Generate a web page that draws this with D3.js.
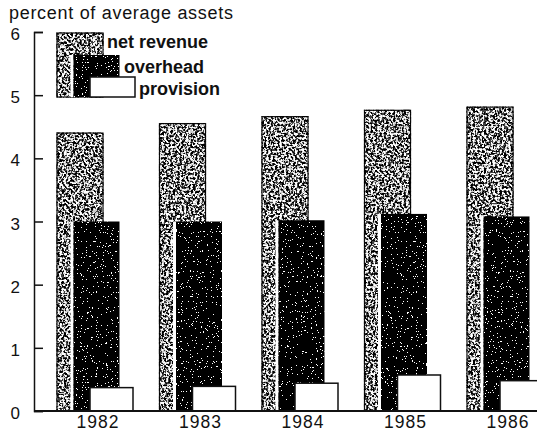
<!DOCTYPE html>
<html lang="en">
<head>
  <meta charset="UTF-8">
  <title>Bank margins 1982-1986</title>
  <script src="https://d3js.org/d3.v7.min.js"></script>
  <style>
    body { margin: 0; background: #fff; }
    svg { display: block; font-family: "Liberation Sans", Arial, sans-serif; }
  </style>
</head>
<body>
  <svg width="537" height="433"></svg>

  <script>
    const width = 537;
    const height = 433;

    // data (percent of average assets)
    const years = ["1982", "1983", "1984", "1985", "1986"];
    const series = ["net revenue", "overhead", "provision"];
    const netRevenue = [4.40, 4.55, 4.66, 4.76, 4.81];
    const overhead = [3.0, 3.0, 3.02, 3.12, 3.08];
    const provision = [0.37, 0.39, 0.44, 0.57, 0.48];
    const yTicks = [0, 1, 2, 3, 4, 5, 6];

    const svg = d3.select("svg");
    const axisX = 34;

    const yScale = d3.scaleLinear()
      .domain([0, 6])
      .range([411, 32]);

    const xScale = d3.scaleBand()
      .domain(years)
      .range([57, 57 + 5 * 102.5]);

    // offset of each series inside a year group
    const inner = d3.scalePoint()
      .domain(series)
      .range([0, 33]);

    const barWidth = { "net revenue": 46, "overhead": 46, "provision": 43 };

    // speckled print textures
    const defs = svg.append("defs");
    function grain(id, seed, freq, table, dotColor) {
      const f = defs.append("filter")
        .attr("id", id)
        .attr("color-interpolation-filters", "sRGB");
      f.append("feTurbulence")
        .attr("type", "fractalNoise")
        .attr("baseFrequency", freq)
        .attr("numOctaves", 4)
        .attr("seed", seed)
        .attr("result", "noise");
      f.append("feColorMatrix")
        .attr("in", "noise")
        .attr("type", "matrix")
        .attr("values", `0 0 0 0 ${dotColor}  0 0 0 0 ${dotColor}  0 0 0 0 ${dotColor}  1 0 0 0 0`)
        .attr("result", "a");
      f.append("feComponentTransfer")
        .attr("in", "a")
        .attr("result", "dots")
        .append("feFuncA")
        .attr("type", "discrete")
        .attr("tableValues", table);
      f.append("feComposite")
        .attr("in", "dots")
        .attr("in2", "SourceGraphic")
        .attr("operator", "in")
        .attr("result", "clipped");
      const m = f.append("feMerge");
      m.append("feMergeNode").attr("in", "SourceGraphic");
      m.append("feMergeNode").attr("in", "clipped");
    }
    grain("light", 3, 0.45, "0 0 0 0 0.2 0.75 1 1 1 1", 0);
    grain("dark", 7, 0.8, "0 0 0 0 0 0 0 1 1 1", 1);

    function drawBar(g, s, x0, w, y0, h) {
      if (s === "net revenue") {
        g.append("rect")
          .attr("x", x0).attr("y", y0).attr("width", w).attr("height", h)
          .attr("fill", "#fff")
          .attr("stroke", "#111").attr("stroke-width", 1.2)
          .attr("filter", "url(#light)");
      } else if (s === "overhead") {
        // white gap on the left side
        g.append("rect")
          .attr("x", x0 - 3).attr("y", y0).attr("width", 3).attr("height", h)
          .attr("fill", "#fff");
        g.append("rect")
          .attr("x", x0).attr("y", y0).attr("width", w).attr("height", h)
          .attr("fill", "#000")
          .attr("filter", "url(#dark)");
      } else {
        g.append("rect")
          .attr("x", x0).attr("y", y0).attr("width", w).attr("height", h)
          .attr("fill", "#fff")
          .attr("stroke", "#111").attr("stroke-width", 1.5);
      }
    }

    const bars = svg.append("g");
    const values = { "net revenue": netRevenue, "overhead": overhead, "provision": provision };
    years.forEach((yr, i) => {
      series.forEach(s => {
        const v = values[s][i];
        drawBar(bars, s, xScale(yr) + inner(s), barWidth[s],
          yScale(v), yScale(0) - yScale(v));
      });
    });

    // legend, drawn as a small stacked group
    const legendX = 57;
    const legendBottom = 97;
    const legendTops = { "net revenue": 33, "overhead": 55, "provision": 77 };
    const legendText = { "net revenue": [107, 48], "overhead": [124, 73], "provision": [139, 95] };
    const legend = svg.append("g");
    series.forEach(s => {
      drawBar(legend, s, legendX + inner(s), barWidth[s] + (s === "provision" ? 2 : 0),
        legendTops[s], legendBottom - legendTops[s]);
      legend.append("text")
        .attr("x", legendText[s][0])
        .attr("y", legendText[s][1])
        .attr("font-size", 18)
        .attr("font-weight", "bold")
        .attr("fill", "#111")
        .text(s);
    });

    // y axis with inward ticks
    const yAxis = svg.append("g")
      .attr("transform", `translate(${axisX},0)`)
      .call(d3.axisLeft(yScale)
        .tickValues(yTicks)
        .tickSize(-9)
        .tickSizeOuter(-9)
        .tickPadding(14)
        .tickFormat(d3.format("d")));
    yAxis.selectAll("path, line").attr("stroke", "#111").attr("stroke-width", 1.5);
    yAxis.selectAll("text")
      .attr("font-size", 17)
      .attr("dy", "0.45em")
      .attr("fill", "#111")
      .attr("font-family", "Liberation Sans, Arial, sans-serif");

    // baseline
    svg.append("line")
      .attr("x1", axisX).attr("x2", width)
      .attr("y1", yScale(0)).attr("y2", yScale(0))
      .attr("stroke", "#111").attr("stroke-width", 1.8);

    // year labels
    svg.append("g")
      .selectAll("text")
      .data(years)
      .join("text")
      .attr("x", d => xScale(d) + 41)
      .attr("y", 428)
      .attr("text-anchor", "middle")
      .attr("font-size", 17.5)
      .attr("letter-spacing", 1)
      .attr("fill", "#111")
      .text(d => d);

    // unit title
    svg.append("text")
      .attr("x", 9)
      .attr("y", 19)
      .attr("font-size", 18)
      .attr("letter-spacing", 0.7)
      .attr("fill", "#111")
      .text("percent of average assets");
  </script>
</body>
</html>
